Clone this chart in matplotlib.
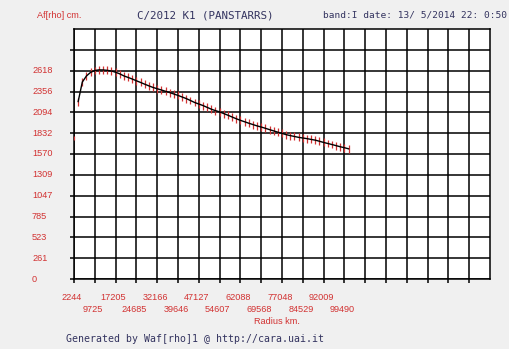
import matplotlib
matplotlib.use("Agg")
import matplotlib.pyplot as plt

# ---- data ----
radius_km = [3740, 5236, 6732, 8228, 9724, 11220, 12716, 14212, 15708, 17204,
             18700, 20196, 21692, 23188, 24684, 26180, 27676, 29172, 30668, 32164,
             33660, 35156, 36652, 38148, 39644, 41140, 42636, 44132, 45628, 47124,
             48620, 50116, 51612, 53108, 54604, 56100, 57596, 59092, 60588, 62084,
             63580, 65076, 66572, 68068, 69564, 71060, 72556, 74052, 75548, 77044,
             78540, 80036, 81532, 83028, 84524, 86020, 87516, 89012, 90508, 92004,
             93500, 94996, 96492, 97988, 99484, 100980]
afrho_cm = [2230, 2475, 2552, 2597, 2620, 2628, 2627, 2622, 2614, 2598,
            2578, 2552, 2533, 2513, 2491, 2470, 2448, 2427, 2407, 2391,
            2375, 2359, 2343, 2325, 2307, 2287, 2267, 2243, 2218, 2199,
            2180, 2157, 2134, 2116, 2100, 2079, 2058, 2036, 2014, 1994,
            1976, 1958, 1941, 1924, 1910, 1894, 1877, 1861, 1845, 1830,
            1814, 1802, 1791, 1780, 1772, 1764, 1754, 1745, 1731, 1716,
            1703, 1690, 1676, 1662, 1650, 1636]
afrho_err = 50
stray_x = [2244]
stray_y = [1772]
stray_err = [28]

x_tick_labels = ["2244", "9725", "17205", "24685", "32166", "39646", "47127",
                 "54607", "62088", "69568", "77048", "84529", "92009", "99490"]
y_tick_labels = ["0", "261", "523", "785", "1047", "1309", "1570", "1832",
                 "2094", "2356", "2618"]

title_left = "Af[rho] cm."
title_mid = "C/2012 K1 (PANSTARRS)"
title_right = "band:I date: 13/ 5/2014 22: 0:50"
x_label = "Radius km."
footer = "Generated by Waf[rho]1 @ http://cara.uai.it"

# ---- layout ----
RED = "#d23232"
NAVY = "#33335f"
BG = "#f0f0f0"
W, H = 509, 349

x0 = float(x_tick_labels[0])
xstep = (float(x_tick_labels[-1]) - x0) / (len(x_tick_labels) - 1)
ystep = float(y_tick_labels[-1]) / (len(y_tick_labels) - 1)
n_xgrid, n_ygrid = 20, 12

fig = plt.figure(figsize=(W / 100, H / 100), dpi=100, facecolor=BG)
ax = fig.add_axes([74 / W, 1 - 279 / H, (490 - 74) / W, (279 - 29) / H])
ax.set_facecolor("white")
ax.set_xlim(x0, x0 + n_xgrid * xstep)
ax.set_ylim(0, n_ygrid * ystep)

gx = [x0 + i * xstep for i in range(n_xgrid + 1)]
gy = [i * ystep for i in range(n_ygrid + 1)]
ax.set_xticks(gx[:-1])
ax.set_yticks(gy[:-1])
ax.set_xticklabels([])
ax.set_yticklabels([])
ax.tick_params(axis="both", direction="out", length=3, width=1.1, color="black")
ax.grid(True, color="black", linewidth=1.1)
for s in ax.spines.values():
    s.set_color("black")
    s.set_linewidth(1.1)

# error bars + curve
ax.errorbar(radius_km, afrho_cm, yerr=afrho_err, fmt="none", ecolor=RED,
            elinewidth=0.9, capsize=0, zorder=3)
ax.plot(radius_km, afrho_cm, color="black", linewidth=1.0, zorder=4)
ax.errorbar(stray_x, stray_y, yerr=stray_err, fmt="none", ecolor=RED,
            elinewidth=0.9, capsize=0, zorder=3, clip_on=False)

lab_font = dict(family="Liberation Sans", fontsize=6.6, color=RED)
for i, lab in enumerate(x_tick_labels):
    off = -18 if i % 2 == 0 else -31
    ax.annotate(lab, xy=(float(lab), 0), xycoords=("data", "axes fraction"),
                xytext=(-2, off), textcoords="offset pixels",
                ha="center", va="center", **lab_font)
for i, lab in enumerate(y_tick_labels):
    ax.annotate(lab, xy=(0, i * ystep), xycoords=("axes fraction", "data"),
                xytext=(-42, 0), textcoords="offset pixels",
                ha="left", va="center", **lab_font)

fig.text(37 / W, 1 - 15 / H, title_left, ha="left", va="center", **lab_font)
fig.text(277 / W, 1 - 322 / H, x_label, ha="center", va="center", **lab_font)

mono = dict(family="DejaVu Sans Mono", color=NAVY)
fig.text(137 / W, 1 - 15 / H, title_mid, ha="left", va="center", fontsize=7.8, **mono)
fig.text(323 / W, 1 - 15 / H, title_right, ha="left", va="center", fontsize=6.8, **mono)
fig.text(66 / W, 1 - 339 / H, footer, ha="left", va="center", fontsize=7.1, **mono)

fig.savefig("out.png", dpi=100, facecolor=BG)
